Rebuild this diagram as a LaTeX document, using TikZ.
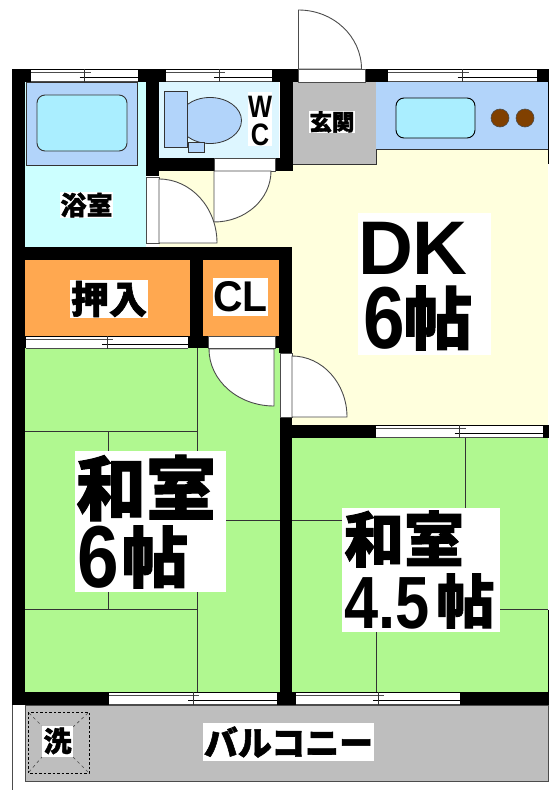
\documentclass[tikz,border=0pt]{standalone}
\usepackage{fontspec}
\setmainfont{Liberation Sans}
\newfontfamily\cjk[BoldFeatures={FakeBold=1.5}]{Noto Sans CJK JP}
\definecolor{bathc}{HTML}{CCFFFF}
\definecolor{tubc}{HTML}{B2D4FA}
\definecolor{waterc}{HTML}{AAEEFF}
\definecolor{wcc}{HTML}{DDF6FF}
\definecolor{orangec}{HTML}{FFA850}
\definecolor{tatamic}{HTML}{B0F890}
\definecolor{dkc}{HTML}{FFFFDD}
\definecolor{grayc}{HTML}{BEBEBE}
\definecolor{brownc}{HTML}{804000}
\definecolor{linec}{HTML}{333333}
\tikzset{
  x=1pt,y=-1pt,
  wall/.style={fill=black,draw=none},
  thin line/.style={draw=linec,line width=0.9pt},
  door/.style={draw=black!70,line width=0.9pt,fill=white},
  label box/.style={fill=white,inner sep=0pt,outer sep=0pt,text=black,font=\bfseries},
  gap/.style={fill=white,draw=black!70,line width=0.8pt},
  narrow/.style={xscale=#1,transform shape},
}
\newcommand{\win}[3]{% x1 x2 ytop
  \pgfmathsetmacro{\wm}{(#1+#2)/2}
  \pgfmathsetmacro{\wb}{#3+12.5}
  \pgfmathsetmacro{\wa}{#3+3}
  \pgfmathsetmacro{\wc}{#3+8.5}
  \fill[white] (#1,#3) rectangle (#2,\wb);
  \draw[black,line width=0.8pt] (#1,#3) -- (#2,#3);
  \draw[black!70,line width=0.8pt] (#1,\wb) -- (#2,\wb);
  \draw[black!70,line width=1pt] (#1,\wa) -- ({\wm+6},\wa);
  \draw[black,line width=1pt] ({\wm-5},\wc) -- (#2,\wc);
  \draw[black!80,line width=0.8pt] (\wm,#3) -- (\wm,\wb);
}
\newcommand{\sz}[1]{\fontsize{#1}{#1}\selectfont}
\begin{document}
\begin{tikzpicture}
\useasboundingbox (0,0) rectangle (549,790);
\fill[white] (0,0) rectangle (549,790);
% floors
\fill[bathc] (25,82) rectangle (146,247);
\fill[wcc] (159,82) rectangle (279,158);
\fill[dkc] (159,164) rectangle (548,247);
\fill[dkc] (292,82) rectangle (548,425);
\fill[orangec] (25,260) rectangle (190,336);
\fill[orangec] (203,260) rectangle (279,336);
\fill[tatamic] (25,348) rectangle (280,692);
\fill[tatamic] (292,438) rectangle (548,692);
\fill[grayc] (293,82) rectangle (376,164);
\draw[linec,line width=0.9pt] (376,82) -- (376,164) -- (293,164);
\fill[tubc] (376,82) rectangle (548,149);
\draw[linec,line width=0.8pt] (376,149) -- (548,149);
% bath tub
\draw[fill=tubc,draw=linec,line width=0.8pt] (26,82) rectangle (137,165);
\draw[fill=waterc,draw=linec,line width=0.9pt,rounded corners=8pt] (37,95) rectangle (127,151);
% sink, burners
\draw[fill=waterc,draw=black,line width=0.9pt,rounded corners=8pt] (396,98) rectangle (475,138);
\draw[fill=brownc,draw=black!70,line width=0.6pt] (500,118) circle (9);
\draw[fill=brownc,draw=black!70,line width=0.6pt] (525,118) circle (9);
% toilet
\draw[fill=tubc,draw=linec,line width=0.8pt] (210,120.5) ellipse (31.5 and 23);
\draw[fill=tubc,draw=linec,line width=0.8pt] (164,91) rectangle (187,147);
\draw[fill=tubc,draw=linec,line width=0.8pt] (188,142) rectangle (204,152);
% tatami seams
\draw[thin line] (197.5,348) -- (197.5,692);
\draw[thin line] (25,431) -- (197.5,431);
\draw[thin line] (108,431) -- (108,460);
\draw[thin line] (25,609) -- (197.5,609);
\draw[thin line] (108,590) -- (108,609);
\draw[thin line] (197.5,520) -- (280,520);
\draw[thin line] (465,438) -- (465,520);
\draw[thin line] (292,520) -- (360,520);
\draw[thin line] (480,609) -- (548,609);
\draw[thin line] (376,620) -- (376,692);
% walls
\fill[wall] (12,69) rectangle (25,705);
\fill[wall] (12,69) rectangle (298,82);
\fill[wall] (280,69) rectangle (293,171);
\fill[wall] (298,69) rectangle (549,82);
\fill[wall] (146,69) rectangle (159,176);
\fill[wall] (146,158) rectangle (292,171);
\fill[wall] (12,247) rectangle (292,260);
\fill[wall] (190,260) rectangle (203,348);
\fill[wall] (279,247) rectangle (292,353);
\fill[wall] (12,336) rectangle (292,348);
\fill[wall] (280,417) rectangle (292,705);
\fill[wall] (292,425) rectangle (376,438);
\fill[wall] (543,425) rectangle (549,438);
\fill[wall] (12,692) rectangle (549,705);
\fill[wall] (547.5,82) rectangle (549,164);
\fill[wall] (547.5,610) rectangle (549,692);
% windows
\win{31}{138}{69}
\win{166}{272}{69}
\win{388}{537}{69}
\win{26}{188}{336}
\win{376}{543}{425}
\win{109}{277}{692}
\win{296}{460}{692}
% door openings
\draw[gap] (298,69) rectangle (365,82);
\draw[gap] (214,158.5) rectangle (275,171);
\draw[gap] (146.5,177) rectangle (159,243);
\draw[gap] (208,336) rectangle (275,348.5);
\draw[gap] (280,353) rectangle (292,417);
% door leaves
\draw[door] (298.5,69) -- (298.5,10) arc[start angle=90,end angle=0,x radius=63,y radius=-59] -- cycle;
\draw[door] (214,171) -- (214,222) arc[start angle=-90,end angle=0,x radius=57,y radius=-51] -- cycle;
\draw[door] (159,243) -- (159,179) arc[start angle=90,end angle=0,x radius=58,y radius=-64] -- cycle;
\draw[door] (274,349) -- (274,406) arc[start angle=-90,end angle=-180,x radius=65,y radius=-57] -- cycle;
\draw[door] (292,417) -- (292,356) arc[start angle=90,end angle=0,x radius=55,y radius=-61] -- cycle;
% balcony
\draw[draw=black!70,line width=0.9pt,fill=grayc] (25,705) rectangle (548,781);
\draw[black!70,line width=0.8pt] (12,705) -- (12,790);
\draw[black!70,line width=0.8pt] (25,705) -- (548,705);
\draw[black,line width=0.8pt,dash pattern=on 2.5pt off 2pt] (28,712) rectangle (89,773);
\draw[black!70,line width=0.6pt,dash pattern=on 3pt off 3pt] (29,713) -- (42,726) (88,713) -- (73,727) (29,772) -- (42,757) (88,772) -- (73,757);
% labels
\node[fill=white,minimum width=46pt,minimum height=22pt,inner sep=0pt] (genkanbox) at (332,122) {};
\node[label box,font=\cjk\bfseries\sz{22.5}] (genkan) at (genkanbox.center) {玄関};
\node[fill=white,minimum width=53pt,minimum height=26pt,inner sep=0pt] (yokubox) at (86.5,205) {};
\node[label box,font=\cjk\bfseries\sz{26}] (yoku) at (yokubox.center) {浴室};
\node[fill=white,minimum width=24pt,minimum height=54pt,inner sep=0pt] (wcbox) at (260,119) {};
\node[label box,narrow=.82,font=\bfseries\sz{31}] (w) at (260,106.5) {W};
\node[label box,narrow=.82,font=\bfseries\sz{31}] (c) at (260,135) {C};
\node[fill=white,minimum width=78pt,minimum height=38pt,inner sep=0pt] (oshibox) at (109,299) {};
\node[label box,font=\cjk\bfseries\sz{38}] (oshi) at (oshibox.center) {押入};
\node[fill=white,minimum width=55pt,minimum height=38pt,inner sep=0pt] (clbox) at (240.5,297) {};
\node[label box,narrow=.95,font=\bfseries\sz{43}] (cl) at (clbox.center) {CL};
\node[fill=white,minimum width=133pt,minimum height=142pt,inner sep=0pt] (dkbox) at (424.5,284) {};
\node[label box,font=\bfseries\sz{76}] (dk) at (413,248) {DK};
\node[label box,narrow=.85,font=\bfseries\sz{88}] (dksix) at (384,318) {6};
\node[label box,font=\cjk\bfseries\sz{68}] (dkjo) at (438,318) {帖};
\node[fill=white,minimum width=151pt,minimum height=141pt,inner sep=0pt] (w6box) at (150.5,521.5) {};
\node[label box,font=\cjk\bfseries\sz{70}] (w6a) at (146,488) {和室};
\node[label box,narrow=.85,font=\bfseries\sz{88}] (w6six) at (98,557) {6};
\node[label box,font=\cjk\bfseries\sz{66}] (w6jo) at (155,557) {帖};
\node[fill=white,minimum width=158pt,minimum height=124pt,inner sep=0pt] (w4box) at (421,570) {};
\node[label box,font=\cjk\bfseries\sz{60}] (w4a) at (404,539) {和室};
\node[label box,narrow=.83,font=\bfseries\sz{74}] (w4five) at (387,603) {4.5};
\node[label box,font=\cjk\bfseries\sz{58}] (w4jo) at (465.5,601) {帖};
\node[fill=white,minimum width=171pt,minimum height=38pt,inner sep=0pt] (balbox) at (288.5,742) {};
\node[label box,font=\cjk\bfseries\sz{34}] (bal) at (balbox.center) {バルコニー};
\node[fill=white,minimum width=31pt,minimum height=31pt,inner sep=0pt] (senbox) at (57.5,741) {};
\node[label box,font=\cjk\bfseries\sz{28}] (sen) at (senbox.center) {洗};
\end{tikzpicture}
\end{document}
